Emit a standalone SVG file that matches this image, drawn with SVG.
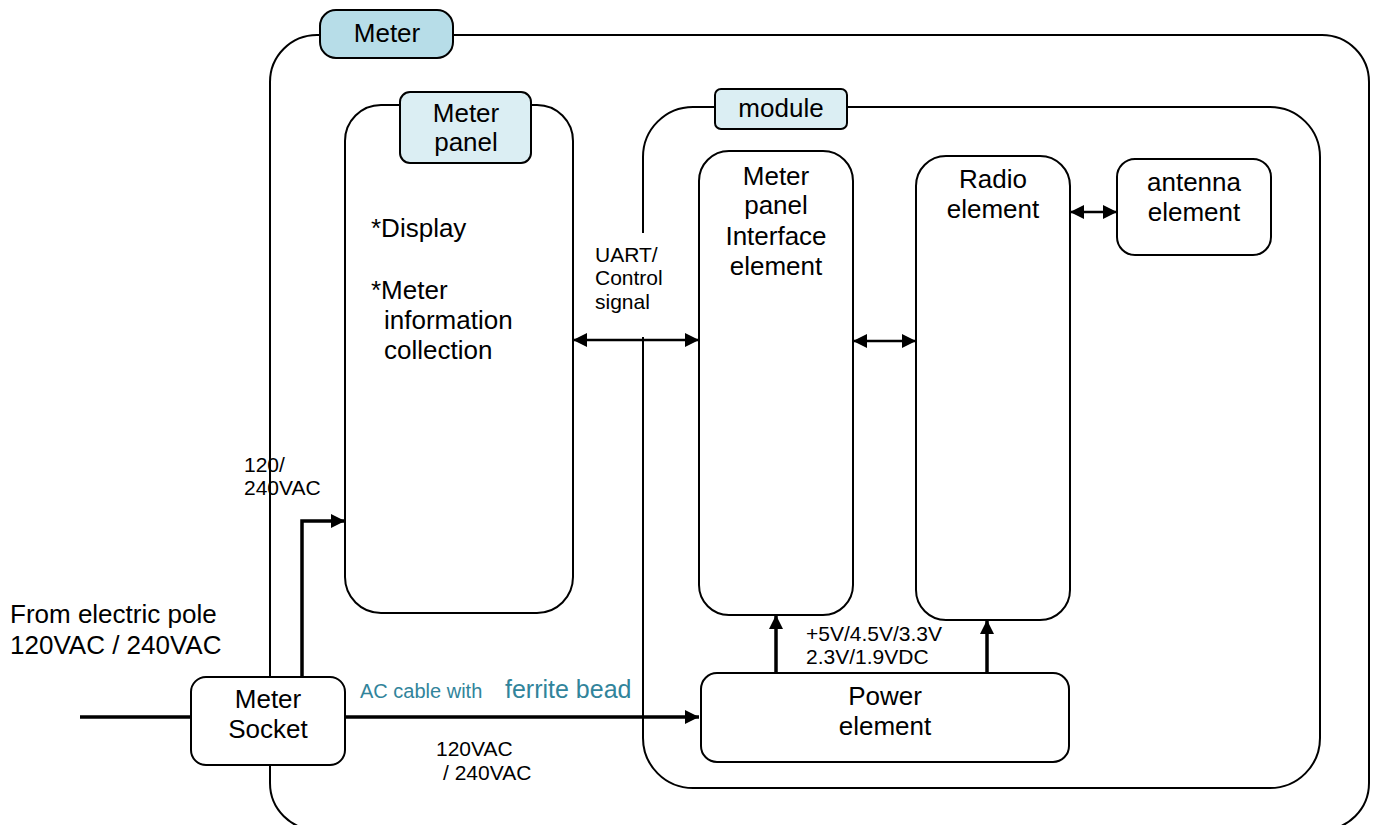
<svg xmlns="http://www.w3.org/2000/svg" width="1377" height="825" viewBox="0 0 1377 825">
<style>
.box{fill:#fff;stroke:#000;stroke-width:2}
.frame{fill:none;stroke:#000;stroke-width:2}
.tab1{fill:#b7dde8;stroke:#000;stroke-width:2}
.tab2{fill:#dbeef3;stroke:#000;stroke-width:2}
text{font-family:"Liberation Sans",Arial,sans-serif;fill:#000}
.t26{font-size:26px}
.t21{font-size:21px}
.c{text-anchor:middle}
.teal{fill:#31849b}
.thick{stroke:#000;stroke-width:3.5;fill:none}
.thin{stroke:#000;stroke-width:2.5;fill:none}
</style>
<defs>
<marker id="ah" viewBox="0 0 10 10" refX="10" refY="5" markerWidth="16" markerHeight="14" markerUnits="userSpaceOnUse" orient="auto-start-reverse">
<path d="M0,0 L10,5 L0,10 z" fill="#000"/>
</marker>
</defs>
<rect width="1377" height="825" fill="#fff"/>

<g id="meter">
<rect class="frame" x="270" y="35" width="1099" height="795" rx="47"/>
<rect class="tab1" x="320" y="10" width="133" height="48" rx="16"/>
<text class="t26 c" x="387" y="42">Meter</text>
</g>

<g id="meter-panel">
<rect class="box" x="345" y="105" width="228" height="508" rx="36"/>
<rect class="tab2" x="400" y="92" width="131" height="71" rx="10"/>
<text class="t26 c" x="466" y="122">Meter</text>
<text class="t26 c" x="466" y="151">panel</text>
<text class="t26" x="371" y="237">*Display</text>
<text class="t26" x="371" y="299">*Meter</text>
<text class="t26" x="384" y="329">information</text>
<text class="t26" x="384" y="359">collection</text>
</g>

<g id="module">
<rect class="frame" x="643" y="107" width="677" height="681" rx="50"/>
<rect x="630" y="233" width="30" height="104" fill="#fff"/>
<rect class="tab2" x="715" y="89" width="132" height="40" rx="6"/>
<text class="t26 c" x="781" y="117">module</text>
</g>

<g id="uart-label">
<text class="t21" x="595" y="262">UART/</text>
<text class="t21" x="595" y="285">Control</text>
<text class="t21" x="595" y="309">signal</text>
</g>

<g id="interface">
<rect class="box" x="699" y="151" width="154" height="464" rx="30"/>
<text class="t26 c" x="776" y="185">Meter</text>
<text class="t26 c" x="776" y="214">panel</text>
<text class="t26 c" x="776" y="245">Interface</text>
<text class="t26 c" x="776" y="275">element</text>
</g>

<g id="radio">
<rect class="box" x="916" y="156" width="154" height="464" rx="30"/>
<text class="t26 c" x="993" y="188">Radio</text>
<text class="t26 c" x="993" y="218">element</text>
</g>

<g id="antenna">
<rect class="box" x="1117" y="159" width="154" height="96" rx="18"/>
<text class="t26 c" x="1194" y="191">antenna</text>
<text class="t26 c" x="1194" y="221">element</text>
</g>

<g id="power">
<rect class="box" x="701" y="673" width="368" height="89" rx="16"/>
<text class="t26 c" x="885" y="705">Power</text>
<text class="t26 c" x="885" y="735">element</text>
</g>

<g id="socket">
<rect class="box" x="191" y="677" width="154" height="88" rx="15"/>
<text class="t26 c" x="268" y="708">Meter</text>
<text class="t26 c" x="268" y="738">Socket</text>
</g>

<g id="connectors">
<line class="thick" x1="80" y1="717" x2="191" y2="717"/>
<line class="thick" x1="345" y1="717" x2="699" y2="717" marker-end="url(#ah)"/>
<polyline class="thick" points="302,677 302,521 345,521" marker-end="url(#ah)"/>
<line class="thin" x1="573" y1="340" x2="699" y2="340" marker-start="url(#ah)" marker-end="url(#ah)"/>
<line class="thin" x1="853" y1="341" x2="916" y2="341" marker-start="url(#ah)" marker-end="url(#ah)"/>
<line class="thin" x1="1070" y1="212" x2="1117" y2="212" marker-start="url(#ah)" marker-end="url(#ah)"/>
<line class="thick" x1="776" y1="673" x2="776" y2="615" marker-end="url(#ah)"/>
<line class="thick" x1="987" y1="673" x2="987" y2="620" marker-end="url(#ah)"/>
</g>

<g id="labels">
<text class="t21" x="244" y="472">120/</text>
<text class="t21" x="244" y="495">240VAC</text>
<text class="t26" x="10" y="623">From electric pole</text>
<text class="t26" x="10" y="654">120VAC / 240VAC</text>
<text class="teal" style="font-size:20px" x="360" y="698">AC cable with</text>
<text class="teal" style="font-size:25px" x="505" y="698">ferrite bead</text>
<text class="t21" x="436" y="756">120VAC</text>
<text class="t21" x="443" y="780">/ 240VAC</text>
<text class="t21" x="806" y="641">+5V/4.5V/3.3V</text>
<text class="t21" x="806" y="664">2.3V/1.9VDC</text>
</g>
</svg>
